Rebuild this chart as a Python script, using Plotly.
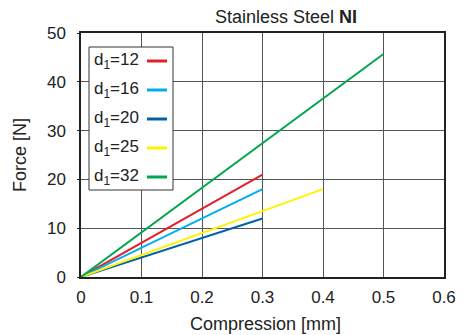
import plotly.graph_objects as go

names = ["d<sub>1</sub>=12", "d<sub>1</sub>=16", "d<sub>1</sub>=20", "d<sub>1</sub>=25", "d<sub>1</sub>=32"]
x_end = [0.3, 0.3, 0.3, 0.4, 0.5]
y_end = [21, 18, 12, 18, 45.7]
colors = ["#e3202a", "#00aeef", "#0060a8", "#fff200", "#00a650"]

fig = go.Figure()
for n, xe, ye, c in zip(names, x_end, y_end, colors):
    fig.add_trace(go.Scatter(x=[0, xe], y=[0, ye], mode="lines", name=n,
                             line=dict(color=c, width=2), showlegend=False,
                             hoverinfo="skip"))

W, H = 464, 335
L, R, T, B = 81, 20, 33, 58
pw, ph = W - L - R, H - T - B

def px(xp):
    return (xp - L) / pw

def py(yp):
    return 1 - (yp - T) / ph

shapes = []
annotations = []
# legend box
shapes.append(dict(type="rect", xref="paper", yref="paper",
                   x0=px(89), x1=px(173), y0=py(190), y1=py(47),
                   line=dict(color="#333", width=1), fillcolor="white", layer="above"))
rows = [61, 90, 119, 148, 177]
for n, c, r in zip(names, colors, rows):
    annotations.append(dict(xref="paper", yref="paper", x=px(92), y=py(r),
                            text=n, showarrow=False, xanchor="left", yanchor="middle",
                            font=dict(size=17, color="#222")))
    shapes.append(dict(type="line", xref="paper", yref="paper",
                       x0=px(147), x1=px(167), y0=py(r), y1=py(r),
                       line=dict(color=c, width=3), layer="above"))

annotations.append(dict(xref="paper", yref="paper", x=px(286), y=py(17),
                        text="Stainless Steel <b>NI</b>", showarrow=False,
                        xanchor="center", yanchor="middle",
                        font=dict(size=18, color="#222")))
annotations.append(dict(xref="paper", yref="paper", x=px(265), y=py(324),
                        text="Compression [mm]", showarrow=False,
                        xanchor="center", yanchor="middle",
                        font=dict(size=18, color="#222")))
annotations.append(dict(xref="paper", yref="paper", x=px(20), y=py(155),
                        text="Force [N]", showarrow=False, textangle=-90,
                        xanchor="center", yanchor="middle",
                        font=dict(size=18, color="#222")))

fig.update_layout(
    width=W, height=H,
    margin=dict(l=L, r=R, t=T, b=B, autoexpand=False),
    paper_bgcolor="white", plot_bgcolor="white",
    font=dict(family="Liberation Sans, Arial, sans-serif", size=17, color="#222"),
    shapes=shapes, annotations=annotations,
    showlegend=False,
)
fig.update_xaxes(range=[0, 0.6], dtick=0.1, tickformat="~g", automargin=False,
                 showgrid=True, gridcolor="#555", gridwidth=1,
                 showline=True, linecolor="#222", linewidth=1.5, mirror=True,
                 zeroline=False, ticks="", ticklen=0, ticklabelstandoff=4)
fig.update_yaxes(range=[0, 50], dtick=10, automargin=False,
                 showgrid=True, gridcolor="#555", gridwidth=1,
                 showline=True, linecolor="#222", linewidth=1.5, mirror=True,
                 zeroline=False, ticks="outside", ticklen=2, tickcolor="#222",
                 ticklabelstandoff=8)

fig.write_html("out.html", config={"displayModeBar": False},
               post_script="document.body.style.margin='0';document.body.style.overflow='hidden';")
